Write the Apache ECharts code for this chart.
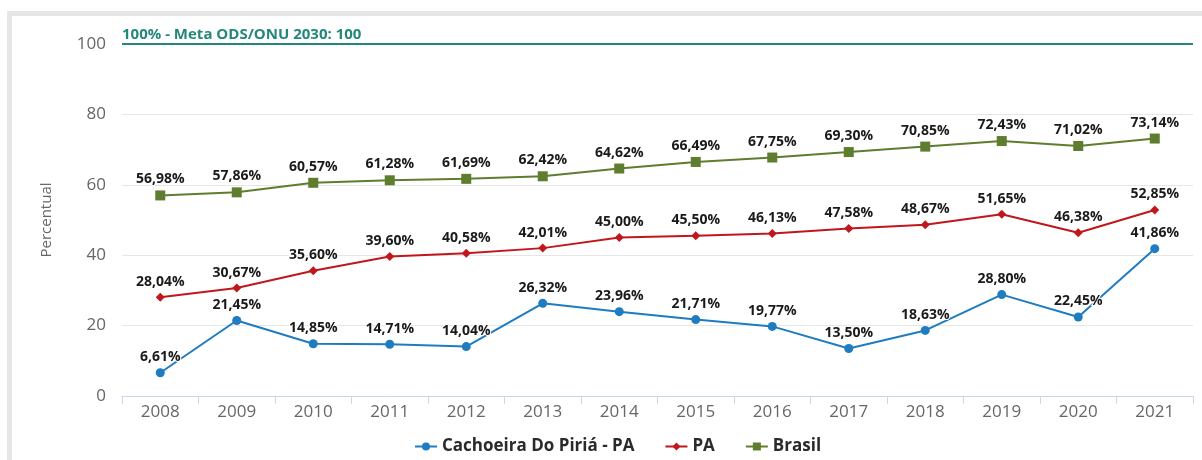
<!DOCTYPE html>
<html>
<head>
<meta charset="utf-8">
<script src="https://cdn.jsdelivr.net/npm/echarts@6/dist/echarts.min.js"></script>
<style>
html,body{margin:0;padding:0;background:#fff;}
#c{width:1202px;height:460px;}
</style>
</head>
<body>
<div id="c"></div>
<script>
const years = ['2008','2009','2010','2011','2012','2013','2014','2015','2016','2017','2018','2019','2020','2021'];
const cachoeira = [6.61,21.45,14.85,14.71,14.04,26.32,23.96,21.71,19.77,13.50,18.63,28.80,22.45,41.86];
const para = [28.04,30.67,35.60,39.60,40.58,42.01,45.00,45.50,46.13,47.58,48.67,51.65,46.38,52.85];
const brasil = [56.98,57.86,60.57,61.28,61.69,62.42,64.62,66.49,67.75,69.30,70.85,72.43,71.02,73.14];
const yTicks = [0,20,40,60,80,100];
const metaValue = 100;
const metaLabel = '100% - Meta ODS/ONU 2030: 100';

const FONT = '"Open Sans", sans-serif';
const chart = echarts.init(document.getElementById('c'), null, {renderer:'canvas'});
function fmt(p){ return p.value.toFixed(2).replace('.', ',') + '%'; }
const labelCfg = {
  show:true, position:'top', distance:4, formatter:fmt,
  fontFamily:FONT, fontWeight:'bold', fontSize:14, color:'#1a1a1a',
  textBorderColor:'#fff', textBorderWidth:2
};
chart.setOption({
  animation:false,
  textStyle:{fontFamily:FONT},
  graphic:[
    {type:'rect', shape:{x:7,y:11,width:1195,height:5}, style:{fill:'#e6e6e6'}, z:-1},
    {type:'rect', shape:{x:7,y:11,width:5,height:449}, style:{fill:'#e6e6e6'}, z:-1}
  ],
  grid:{left:122, right:9, top:44, bottom:64, containLabel:false},
  legend:{
    bottom:0, left:409, itemGap:30, itemWidth:22, itemHeight:10,
    textStyle:{fontFamily:FONT, fontWeight:'bold', fontSize:17, color:'#2a2a2a'},
    data:['Cachoeira Do Piriá - PA','PA','Brasil']
  },
  xAxis:{
    type:'category', data:years, boundaryGap:true,
    axisLine:{lineStyle:{color:'#ccd6eb', width:1}},
    axisTick:{show:true, length:8, lineStyle:{color:'#ccd6eb'}},
    axisLabel:{color:'#666', fontSize:17, margin:8, fontFamily:FONT}
  },
  yAxis:{
    type:'value', min:yTicks[0], max:yTicks[yTicks.length-1], interval:20,
    name:'Percentual', nameLocation:'middle', nameRotate:90, nameGap:68,
    nameTextStyle:{color:'#666', fontSize:15, fontFamily:FONT},
    axisLine:{show:false}, axisTick:{show:false},
    axisLabel:{color:'#666', fontSize:17, margin:16, fontFamily:FONT},
    splitLine:{lineStyle:{color:'#e6e6e6', width:1}}
  },
  series:[
    {
      name:'Cachoeira Do Piriá - PA', type:'line', data:cachoeira,
      symbol:'circle', symbolSize:9,
      lineStyle:{color:'#1f7cc1', width:2}, itemStyle:{color:'#1f7cc1'},
      label:labelCfg
    },
    {
      name:'PA', type:'line', data:para,
      symbol:'diamond', symbolSize:9,
      lineStyle:{color:'#c0171d', width:2}, itemStyle:{color:'#c0171d'},
      label:labelCfg
    },
    {
      name:'Brasil', type:'line', data:brasil,
      symbol:'rect', symbolSize:10,
      lineStyle:{color:'#5e7d2e', width:2}, itemStyle:{color:'#5e7d2e'},
      label:labelCfg,
      markLine:{
        silent:true, symbol:'none', animation:false,
        lineStyle:{color:'#23887a', width:2, type:'solid'},
        label:{
          show:true, position:'insideStartTop', formatter:metaLabel, distance:[0,2],
          color:'#23887a', fontWeight:'bold', fontSize:15, fontFamily:FONT
        },
        data:[{yAxis:metaValue}]
      }
    }
  ]
});
</script>
</body>
</html>
